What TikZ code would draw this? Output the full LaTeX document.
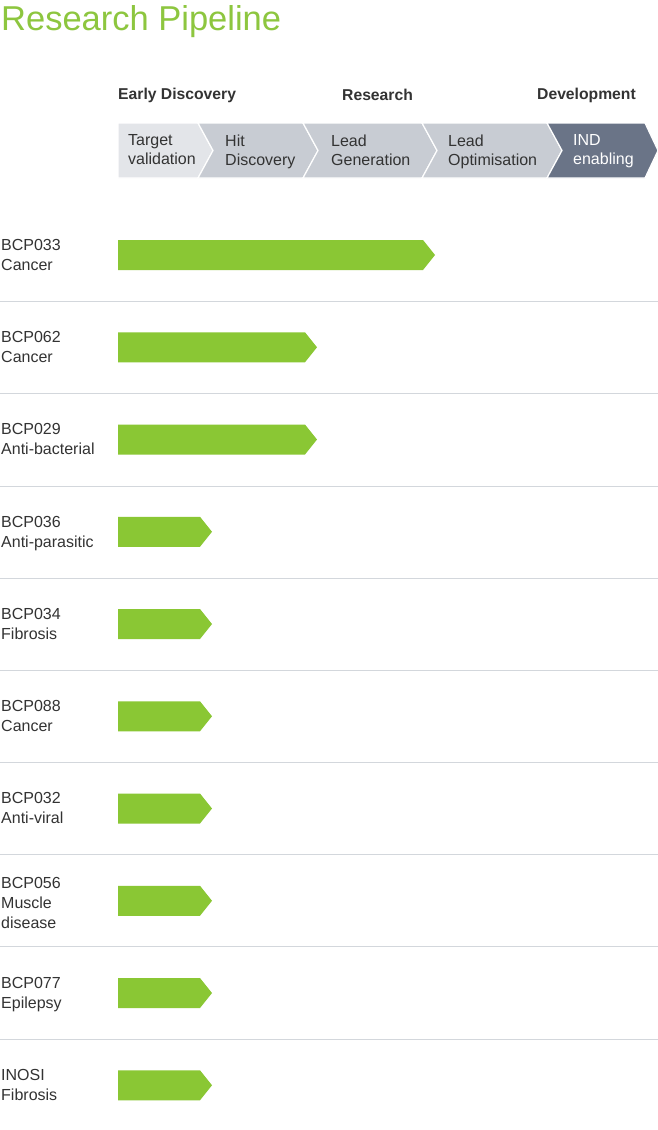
\documentclass[tikz,border=0pt]{standalone}
\usepackage{fontspec}
\setmainfont{Liberation Sans}
\definecolor{titlegreen}{HTML}{8DC63F}
\definecolor{bargreen}{HTML}{8AC734}
\definecolor{txt}{HTML}{333333}
\definecolor{segA}{HTML}{E3E5E9}
\definecolor{segB}{HTML}{C8CCD3}
\definecolor{segC}{HTML}{6A7487}
\definecolor{sepline}{HTML}{D3D7DC}
\begin{document}
\begin{tikzpicture}[x=1pt,y=-1pt,
  hdr/.style={anchor=west,inner sep=0,text=txt,font=\fontsize{15.7}{18}\selectfont\bfseries},
  segtext/.style={anchor=north west,inner sep=0,align=left,font=\fontsize{16}{19}\selectfont},
  rowlabel/.style={anchor=north west,inner sep=0,align=left,text=txt,font=\fontsize{16}{20}\selectfont},
  seg/.style={draw=white,line width=1.2pt,line join=miter},
  bar/.style={fill=bargreen},
  rowsep/.style={draw=sepline,line width=1.2pt}]
\useasboundingbox (0,0) rectangle (658,1130);
\fill[white] (0,0) rectangle (658,1130);
% title
\node[anchor=base west,inner sep=0,text=titlegreen,font=\fontsize{34.5}{40}\selectfont] (title) at (1,30) {Research Pipeline};
% stage headers
\node[hdr] (h1) at (118,95) {Early Discovery};
\node[hdr] (h2) at (342,95) {Research};
\node[hdr] (h3) at (537,95) {Development};
% chevron band
\fill[segA,seg] (118,123) -- (198,123) -- (213,150.5) -- (198,178) -- (118,178) -- cycle;
\fill[segB,seg] (198,123) -- (303,123) -- (318,150.5) -- (303,178) -- (198,178) -- (213,150.5) -- cycle;
\fill[segB,seg] (303,123) -- (422,123) -- (437,150.5) -- (422,178) -- (303,178) -- (318,150.5) -- cycle;
\fill[segB,seg] (422,123) -- (547,123) -- (562,150.5) -- (547,178) -- (422,178) -- (437,150.5) -- cycle;
\fill[segC,seg] (547,123) -- (645,123) -- (658,150.5) -- (645,178) -- (547,178) -- (562,150.5) -- cycle;
\node[segtext,text=txt] (s1) at (128,134.5) {Target\\validation};
\node[segtext,text=txt] (s2) at (225,134.5) {Hit\\Discovery};
\node[segtext,text=txt] (s3) at (331,134.5) {Lead\\Generation};
\node[segtext,text=txt] (s4) at (448,134.5) {Lead\\Optimisation};
\node[segtext,text=white] (s5) at (573,134.5) {IND\\enabling};
% rows
\foreach \i/\lab/\e/\o in {0/{BCP033\\Cancer}/423/16, 1/{BCP062\\Cancer}/305/16, 2/{BCP029\\Anti-bacterial}/305/16,
  3/{BCP036\\Anti-parasitic}/200/16, 4/{BCP034\\Fibrosis}/200/16, 5/{BCP088\\Cancer}/200/16,
  6/{BCP032\\Anti-viral}/200/16, 7/{BCP056\\Muscle\\disease}/200/24, 8/{BCP077\\Epilepsy}/200/16,
  9/{INOSI\\Fibrosis}/200/16}{
  \pgfmathsetmacro{\c}{255+92.25*\i}
  \node[rowlabel] (r\i) at (1,\c-\o) {\lab};
  \fill[bar] (118,\c-15) -- (\e,\c-15) -- (\e+12,\c) -- (\e,\c+15) -- (118,\c+15) -- cycle;
}
\foreach \s in {301.5,393.5,486.5,578.5,670.5,762.5,854.5,946.5,1039.5}{
  \draw[rowsep] (0,\s) -- (658,\s);
}
\end{tikzpicture}
\end{document}
